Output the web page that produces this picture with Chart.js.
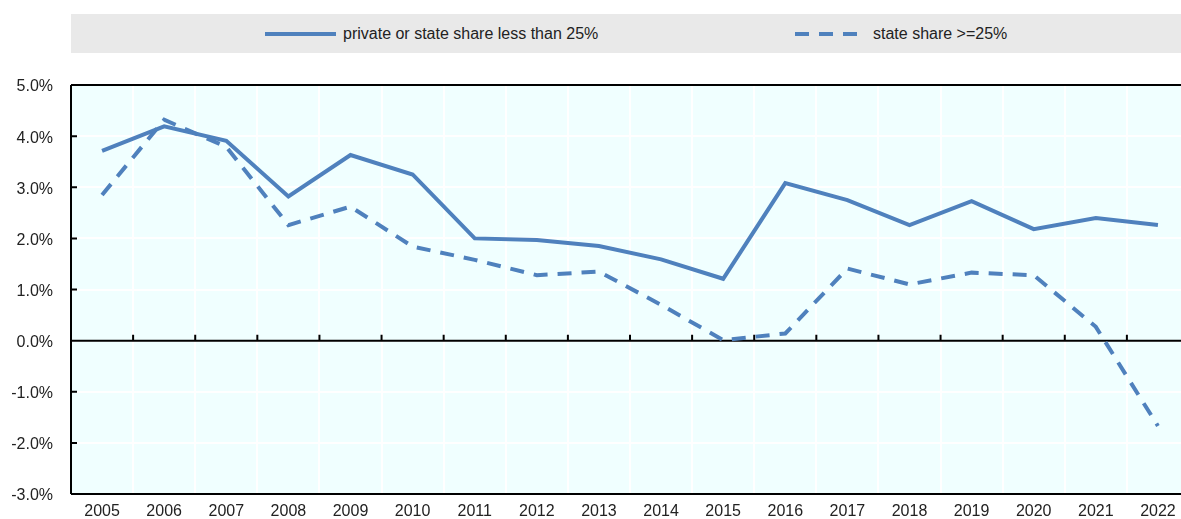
<!DOCTYPE html>
<html>
<head>
<meta charset="utf-8">
<script src="https://cdn.jsdelivr.net/npm/chart.js@4"></script>
<style>
    html, body { margin: 0; overflow: hidden; background: #fff; font-family: "Liberation Sans", Arial, sans-serif; }
    #wrap { position: relative; width: 1181px; height: 519px; overflow: hidden; }
    #legend { position: absolute; left: 71px; top: 14px; width: 1110px; height: 39px; background: #e9e9e9; }
    .item { position: absolute; top: 0; height: 39px; display: flex; align-items: center; font-size: 16px; color: #222; }
    .item svg { margin-right: 7px; }
    canvas { display: block; }
</style>
</head>
<body>
<div id="wrap">
    <div id="legend"></div>
    <canvas id="chart" width="1190" height="519"></canvas>
</div>
<script>
// categories
var years = ["2005", "2006", "2007", "2008", "2009", "2010", "2011", "2012", "2013",
    "2014", "2015", "2016", "2017", "2018", "2019", "2020", "2021", "2022"];

// series values (%)
var privateLow = [3.71, 4.19, 3.91, 2.82, 3.63, 3.25, 2.00, 1.97, 1.85,
    1.59, 1.21, 3.08, 2.75, 2.26, 2.73, 2.18, 2.40, 2.26];
var stateHigh = [2.85, 4.32, 3.79, 2.26, 2.62, 1.84, 1.58, 1.28, 1.35,
    0.70, 0.01, 0.14, 1.41, 1.10, 1.33, 1.28, 0.27, -1.67];

var seriesNames = ["private or state share less than 25%", "state share >=25%"];

// y axis
var yMin = -3, yMax = 5, yStep = 1;

var blue = "#4f81bd";

// legend (html, positions)
var legendX = [194, 724];
seriesNames.forEach(function(name, i) {
    var dash = i === 1 ? ' stroke-dasharray="14 10"' : '';
    var div = document.createElement("div");
    div.className = "item";
    div.style.left = legendX[i] + "px";
    div.innerHTML = '<svg width="71" height="8"><line x1="0" y1="4" x2="71" y2="4" stroke="' + blue +
        '" stroke-width="4"' + dash + '/></svg><span></span>';
    div.querySelector("span").textContent = name;
    document.getElementById("legend").appendChild(div);
});

// frame, zero line and inside ticks
var framePlugin = {
    id: "frame",
    beforeDraw: function(chart) {
        var a = chart.chartArea, c = chart.ctx;
        c.save();
        c.fillStyle = "#f0ffff";
        c.fillRect(a.left, a.top, a.right - a.left, a.bottom - a.top);
        c.restore();
    },
    beforeDatasetsDraw: function(chart) {
        var a = chart.chartArea, c = chart.ctx;
        var y = chart.scales.y;
        var zero = y.getPixelForValue(0);
        c.save();
        c.strokeStyle = "#000";
        c.lineWidth = 2;
        c.beginPath();
        c.moveTo(a.left, a.top); c.lineTo(a.right, a.top);
        c.moveTo(a.left, a.bottom); c.lineTo(a.right, a.bottom);
        c.moveTo(a.left, a.top); c.lineTo(a.left, a.bottom);
        c.moveTo(a.left, zero); c.lineTo(a.right, zero);
        // y ticks inside
        for (var v = yMin; v <= yMax; v += yStep) {
            var py = y.getPixelForValue(v);
            c.moveTo(a.left, py); c.lineTo(a.left + 6, py);
        }
        // x ticks on the zero line, between categories
        var w = (a.right - a.left) / years.length;
        for (var i = 1; i < years.length; i++) {
            var px = a.left + i * w;
            c.moveTo(px, zero); c.lineTo(px, zero - 6);
        }
        c.stroke();
        c.restore();
    }
};

var ctx = document.getElementById("chart");

var chart = new Chart(ctx, {
    type: "line",
    data: {
        labels: years,
        datasets: [{
            label: seriesNames[0],
            data: privateLow,
            borderColor: blue,
            borderWidth: 4,
            pointRadius: 0,
            tension: 0,
            fill: false
        }, {
            label: seriesNames[1],
            data: stateHigh,
            borderColor: blue,
            borderWidth: 4,
            borderDash: [14, 10],
            pointRadius: 0,
            tension: 0,
            fill: false
        }]
    },
    options: {
        responsive: false,
        animation: false,
        layout: { padding: { top: 85, right: 1, left: 0, bottom: 0 } },
        plugins: {
            legend: { display: false },
            tooltip: { enabled: false }
        },
        scales: {
            x: {
                offset: true,
                grid: { offset: true, color: "#ffffff", lineWidth: 2, drawTicks: false },
                border: { display: false },
                ticks: {
                    color: "#222",
                    padding: 8,
                    maxRotation: 0,
                    font: { family: "'Liberation Sans', Arial", size: 16 }
                },
                afterFit: function(s) { s.height = 25; }
            },
            y: {
                min: yMin,
                max: yMax,
                grid: { color: "#ffffff", lineWidth: 2, drawTicks: false },
                border: { display: false },
                ticks: {
                    stepSize: yStep,
                    color: "#222",
                    padding: 18,
                    labelOffset: 2,
                    font: { family: "'Liberation Sans', Arial", size: 16 },
                    callback: function(v) { return v.toFixed(1) + "%"; }
                },
                afterFit: function(s) {
                    s.width = 71;
                    s.paddingTop = 0;
                    s.paddingBottom = 0;
                }
            }
        }
    },
    plugins: [framePlugin]
});
</script>
</body>
</html>
